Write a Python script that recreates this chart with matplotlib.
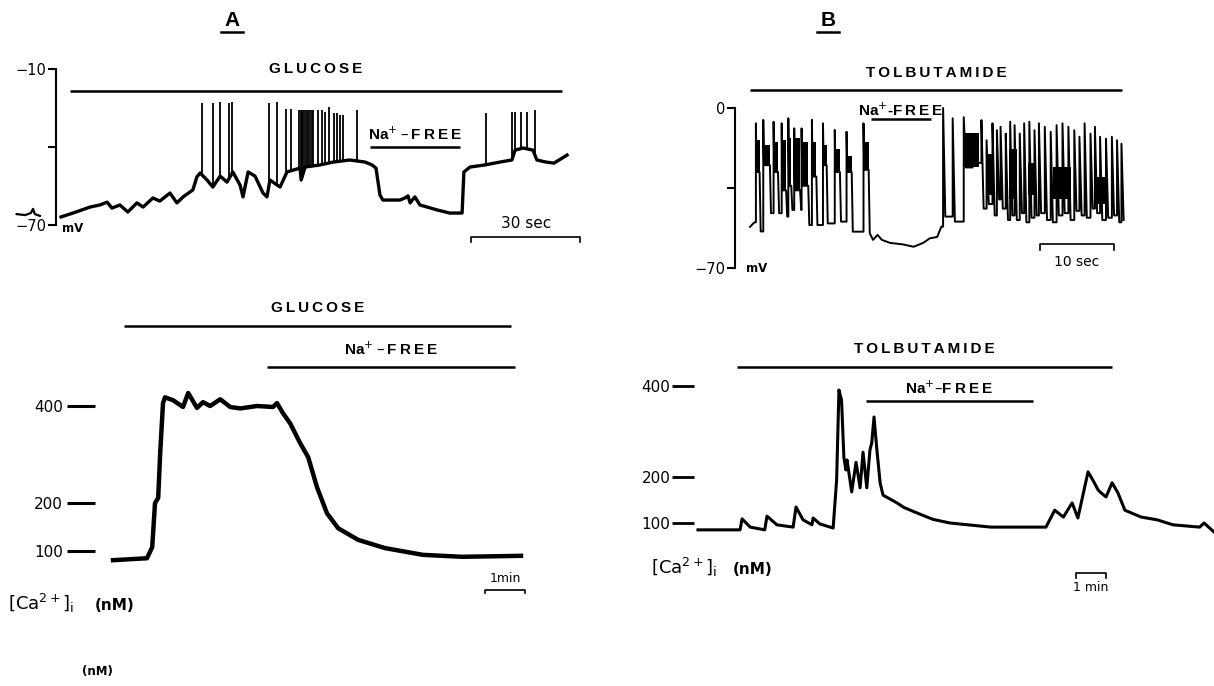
# -*- coding: utf-8 -*-

import matplotlib
matplotlib.use("Agg")
import matplotlib.pyplot as plt
import numpy as np

W, H = 1214, 686

# ---------------- A: membrane potential (s, mV) ----------------
a_vm_t = [0, 3.3, 8.0, 10.7, 12.7, 14.0, 16.2, 18.4, 20.9, 22.6, 25.3, 27.2, 30.0,
          31.9, 33.6, 36.3, 37.4, 38.3, 40.2, 41.8, 43.8, 45.7, 47.3, 49.3, 50.1,
          51.5, 53.4, 55.6, 56.7, 57.5, 60.3, 62.2, 65.8, 66.1, 67.2, 71.3, 74.9,
          79.5, 83.7, 85.6, 86.7, 87.8, 88.6, 93.3, 94.7, 95.5, 96.1, 97.4, 98.8,
          103.5, 107.0, 110.4, 110.9, 112.6, 116.7, 120.8, 124.1, 125.0, 127.2,
          129.9, 131.0, 133.5, 135.7, 139.3]
a_vm_v = [-66.9, -65.4, -63.1, -62.3, -61.2, -63.5, -62.3, -65.0, -61.5, -63.1, -59.6,
          -60.8, -57.7, -61.5, -59.2, -56.5, -51.5, -50.0, -52.7, -55.4, -51.2, -53.5,
          -49.6, -54.7, -59.2, -49.6, -51.2, -57.7, -59.2, -52.7, -55.4, -49.6, -48.1,
          -52.7, -47.7, -46.9, -45.8, -45.0, -45.8, -46.9, -48.1, -58.5, -60.4, -60.4,
          -59.6, -58.8, -61.5, -59.2, -62.3, -64.2, -65.4, -65.4, -49.6, -47.7, -46.9,
          -45.8, -45.0, -41.2, -40.4, -41.2, -45.0, -45.8, -46.2, -43.1]
a_spike_t = [38.9, 41.8, 43.8, 46.2, 47.2, 57.3, 59.5, 61.9, 63.2,
             65.6, 66.0, 66.3, 66.7, 67.2, 67.6, 68.1, 68.5, 69.0, 69.4,
             70.8, 71.8, 72.7, 73.8, 75.1, 76.1, 76.8, 77.7, 81.4,
             117.0, 124.1, 125.0, 126.6, 128.3, 130.5]
a_spike_v = [-23.1, -23.1, -22.6, -23.1, -22.6, -23.1, -22.7, -25.4, -25.4,
             -25.8, -25.8, -25.8, -25.8, -25.8, -25.8, -25.8, -25.8, -25.8, -25.8,
             -25.8, -25.8, -26.5, -24.6, -26.9, -26.9, -27.7, -27.7, -25.8,
             -26.9, -26.5, -26.5, -26.5, -26.5, -25.8]
a_blip_t = [-12.2, -9.9, -8.3, -7.7, -7.2, -5.8]
a_blip_v = [-65.8, -66.2, -65.4, -63.8, -65.8, -66.5]
a_glucose_s = (2.5, 137.9)
a_nafree_s = (85.1, 109.8)

# ---------------- B: membrane potential (s, mV) ----------------
b_start_t = [0.0, 0.6]
b_start_v = [-52.0, -50.0]
b_burst_up = [0.8, 1.8, 3.2, 4.3, 5.2, 6.0, 7.0, 8.4, 9.9, 11.5, 13.1, 15.4]
b_burst_down = [1.3, 2.7, 3.8, 4.9, 5.6, 6.8, 7.9, 9.0, 10.4, 12.2, 13.8, 16.1]
b_burst_peak = [-6.7, -5.2, -6.0, -6.7, -4.5, -8.9, -8.9, -5.2, -6.7, -9.6, -10.4, -6.7]
b_burst_hi = [-14, -16, -15, -14, -13, -13, -15, -15, -16, -18, -21, -15]
b_burst_lo = [-28, -25, -28, -36, -34, -36, -34, -30, -25, -28, -28, -27]
b_burst_trough = [-54, -46, -46, -47.5, -44.6, -44.6, -51.2, -51.2, -50.5, -49.7, -54.1, -54.8]
b_nafree_t = [16.7, 17.3, 17.9, 19.0, 20.8, 22.2, 23.5, 24.4, 25.4, 25.97]
b_nafree_v = [-57.7, -55.5, -57.7, -59.0, -59.7, -60.7, -59.0, -57.0, -56.4, -51.9]
b_spike_t = [26.2, 27.5, 29.0, 30.2, 31.4, 32.1, 32.9, 33.5, 34.0, 34.7, 35.3, 35.9,
             36.6, 37.2, 37.9, 38.6, 39.2, 40.0, 40.8, 41.6, 42.4, 43.2, 44.0, 44.7,
             45.4, 46.2, 46.8, 47.5, 48.3, 49.1, 49.8, 50.4]
b_spike_peak = [0.0, -4.5, -4.0, -12.0, -5.3, -14.1, -6.7, -9.7, -8.2, -11.2, -6.0, -7.5,
                -11.2, -6.7, -6.0, -9.7, -6.7, -8.2, -10.4, -7.5, -6.7, -8.2, -9.7, -12.6,
                -6.7, -11.2, -8.2, -12.6, -13.4, -12.6, -14.1, -15.6]
b_spike_trough = [-47.5, -49.7, -26, -24, -44, -42, -47, -40, -44, -49, -47, -49,
                  -46, -50, -48, -47, -46, -49, -50, -47, -46, -49, -45, -47,
                  -48, -44, -46, -49, -48, -47, -50, -49]
b_band_t0 = [29.1, 32.0, 35.1, 37.7, 41.1, 46.7]
b_band_t1 = [31.1, 33.0, 36.2, 38.8, 43.6, 48.2]
b_band_lo = [-26, -38, -40, -38, -40, -42]
b_band_hi = [-11, -20, -18, -24, -26, -30]
b_tolb_s = (0.0, 50.5)
b_nafree_s = (16.4, 24.6)

# ---------------- A: [Ca2+]i (min, nM) ----------------
a_ca_t = [0.0, 0.85, 0.98, 1.05, 1.13, 1.18, 1.25, 1.3, 1.5, 1.75, 1.88, 2.1, 2.25,
          2.43, 2.68, 2.93, 3.18, 3.6, 4.0, 4.1, 4.25, 4.43, 4.68, 4.88, 5.1, 5.35,
          5.63, 6.13, 6.8, 7.75, 8.73, 10.2]
a_ca_v = [81, 85, 108, 199, 210, 303, 406, 418, 412, 398, 427, 396, 408,
          400, 414, 398, 395, 400, 398, 406, 385, 364, 323, 294, 232, 178,
          147, 123, 106, 92, 88, 90]
a_ca_glucose = (0.28, 9.95)
a_ca_nafree = (3.85, 10.05)

# ---------------- B: [Ca2+]i (min, nM) ----------------
b_ca_t = [0, 1.45, 1.52, 1.8, 2.3, 2.38, 2.72, 3.28, 3.38, 3.62, 3.93, 3.97, 4.2,
          4.66, 4.78, 4.86, 4.95, 5.03, 5.1, 5.14, 5.3, 5.45, 5.59, 5.69, 5.82,
          5.93, 5.99, 6.07, 6.16, 6.28, 6.38, 6.86, 7.1, 7.55, 8.1, 8.69, 10.1, 12.0,
          12.3, 12.6, 12.9, 13.1, 13.45, 13.65, 13.8, 13.9, 14.07, 14.28, 14.48, 14.72,
          15.28, 15.83, 16.38, 17.3, 17.45, 17.8]
b_ca_v = [85, 85, 109, 91, 85, 115, 96, 91, 135, 107, 96, 111, 98,
          89, 194, 391, 369, 244, 216, 238, 168, 233, 177, 255, 177,
          260, 275, 332, 266, 188, 161, 144, 134, 122, 108, 100, 91, 91,
          128, 113, 144, 111, 212, 190, 172, 166, 157, 188, 166, 128,
          113, 107, 96, 91, 100, 80]
b_ca_tolb = (1.34, 14.28)
b_ca_nafree = (5.79, 11.55)

fig = plt.figure(figsize=(W / 100, H / 100), dpi=100)
FAM = ["Liberation Sans", "DejaVu Sans"]
LAB = dict(family=FAM, fontweight="bold", color="k")
SP = "\u2009"


def spaced(word):
    return SP.join(word)


def panel(box, x0px, xscale, yref_px, yref_val, yscale):
    # box in pixels (left, right, top, bottom); scales in px per data unit
    left, right, top, bottom = box
    ax = fig.add_axes([left / W, 1 - bottom / H, (right - left) / W, (bottom - top) / H])
    ax.set_xlim((left - x0px) / xscale, (right - x0px) / xscale)
    ax.set_ylim(yref_val - (bottom - yref_px) / yscale, yref_val + (yref_px - top) / yscale)
    ax.patch.set_visible(False)
    for s in ax.spines.values():
        s.set_visible(False)
    ax.set_xticks([])
    return ax


def protocol(ax, span, y, label, ylab, fs=11):
    ax.plot(span, [y, y], color="k", lw=1.8, clip_on=False, solid_capstyle="butt")
    ax.text((span[0] + span[1]) / 2, ylab, label, ha="center", va="center", fontsize=fs, **LAB)


def scalebar(ax, t0, t1, y, dy, label, ylab, fs=10):
    ax.plot([t0, t0, t1, t1], [y + dy, y, y, y + dy], color="k", lw=1.2, clip_on=False)
    ax.text((t0 + t1) / 2, ylab, label, ha="center", va="center", fontsize=fs,
            family="DejaVu Sans", color="k")


NAF = "Na$^{+}$" + SP + "\u2013" + SP + spaced("FREE")
NAF_B = "Na$^{+}$-" + spaced("FREE")

# ---- panel A top ----
ax = panel((56, 600, 55, 250), 61, 3.633, 69, -10, 2.6)
ax.spines["left"].set_visible(True)
ax.spines["left"].set_bounds(-70, -10)
ax.spines["left"].set_linewidth(1.5)
ax.set_yticks([-70, -40, -10])
ax.set_yticklabels(["\u221270", "", "\u221210"])
ax.tick_params(axis="y", length=6, width=1.5, pad=1, labelsize=10.5)
ax.plot(a_vm_t, a_vm_v, color="k", lw=2.4, solid_joinstyle="round")
feet = np.interp(a_spike_t, a_vm_t, a_vm_v)
ax.vlines(a_spike_t, feet, a_spike_v, color="k", lw=1.3)
ax.plot(a_blip_t, a_blip_v, color="k", lw=1.6, clip_on=False)
ax.text(0.3, -71.5, "mV", fontsize=8.5, va="center", ha="left", fontweight="bold")
protocol(ax, a_glucose_s, -18.5, spaced("GLUCOSE"), -10)
protocol(ax, a_nafree_s, -40, NAF, -35)
scalebar(ax, 112.9, 142.9, -74.6, -2, "30 sec", -69.6, fs=11)

# ---- panel B top ----
ax = panel((735, 1135, 80, 275), 750, 7.37, 108, 0, 2.286)
ax.spines["left"].set_visible(True)
ax.spines["left"].set_bounds(-70, 0)
ax.spines["left"].set_linewidth(1.5)
ax.set_yticks([-70, -35, 0])
ax.set_yticklabels(["\u221270", "", "0"])
ax.tick_params(axis="y", length=6, width=1.5, pad=1, labelsize=10.5)
bt, bv = list(b_start_t), list(b_start_v)
for up, down, pk, hi, lo, tr in zip(b_burst_up, b_burst_down, b_burst_peak,
                                    b_burst_hi, b_burst_lo, b_burst_trough):
    prev = bv[-1]
    bt += [up, up, up + 0.1, down, down + 0.15]
    bv += [prev, pk, lo, lo, tr]
    ax.fill_between([up + 0.05, down], lo, hi, color="k", lw=0)
bt += b_nafree_t
bv += b_nafree_v
for t, pk, tr in zip(b_spike_t, b_spike_peak, b_spike_trough):
    prev = bv[-1]
    bt += [t, t, t + 0.3]
    bv += [prev, pk, tr]
for t0, t1, lo, hi in zip(b_band_t0, b_band_t1, b_band_lo, b_band_hi):
    ax.fill_between([t0, t1], lo, hi, color="k", lw=0)
ax.plot(bt, bv, color="k", lw=1.4)
ax.text(-0.5, -70, "mV", fontsize=8.5, va="center", ha="left", fontweight="bold")
protocol(ax, b_tolb_s, 7.9, spaced("TOLBUTAMIDE"), 15.3)
protocol(ax, b_nafree_s, -4.8, NAF_B, -0.9)
scalebar(ax, 39.3, 49.4, -59.5, -2.5, "10 sec", -67.4)

# ---- panel A bottom ----
ax = panel((95, 570, 290, 615), 113, 40, 551, 100, 0.4833)
ax.set_yticks([100, 200, 400])
ax.set_yticklabels(["100", "200", "400"])
ax.tick_params(axis="y", length=20, width=2.2, pad=3, labelsize=11)
ax.plot(a_ca_t, a_ca_v, color="k", lw=3.2, solid_joinstyle="round")
protocol(ax, a_ca_glucose, 565.5, spaced("GLUCOSE"), 603)
protocol(ax, a_ca_nafree, 480.7, NAF, 518)
scalebar(ax, 9.3, 10.3, 19.3, -7, "1min", 44, fs=9)

# ---- panel B bottom ----
ax = panel((694, 1214, 330, 600), 698, 29, 523, 100, 0.457)
ax.set_yticks([100, 200, 400])
ax.set_yticklabels(["100", "200", "400"])
ax.tick_params(axis="y", length=16, width=2.0, pad=1, labelsize=11)
ax.plot(b_ca_t, b_ca_v, color="k", lw=2.2, solid_joinstyle="round", clip_on=False)
protocol(ax, b_ca_tolb, 441, spaced("TOLBUTAMIDE"), 481)
protocol(ax, b_ca_nafree, 367, "Na$^{+}$\u2013" + spaced("FREE"), 395)
scalebar(ax, 13.03, 14.07, -9.4, -10, "1 min", -42, fs=9)

# ---- figure annotations (pixel coordinates) ----
ov = fig.add_axes([0, 0, 1, 1])
ov.set_xlim(0, W)
ov.set_ylim(H, 0)
ov.axis("off")
for x, s in [(232, "A"), (828, "B")]:
    ov.text(x, 20, s, ha="center", va="center", fontsize=15, **LAB)
    ov.plot([x - 11, x + 11], [32, 32], color="k", lw=1.8)
ca = r"$\left[\mathrm{Ca}^{2+}\right]_\mathrm{i}$"
ov.text(8, 603, ca, fontsize=13, va="center", ha="left")
ov.text(95, 605, "(nM)", fontsize=11, va="center", ha="left", fontweight="bold")
ov.text(651, 567, ca, fontsize=13, va="center", ha="left")
ov.text(733, 569, "(nM)", fontsize=11, va="center", ha="left", fontweight="bold")
ov.text(82, 672, "(nM)", fontsize=8.5, va="center", ha="left", fontweight="bold")

fig.savefig("out.png", dpi=100)
